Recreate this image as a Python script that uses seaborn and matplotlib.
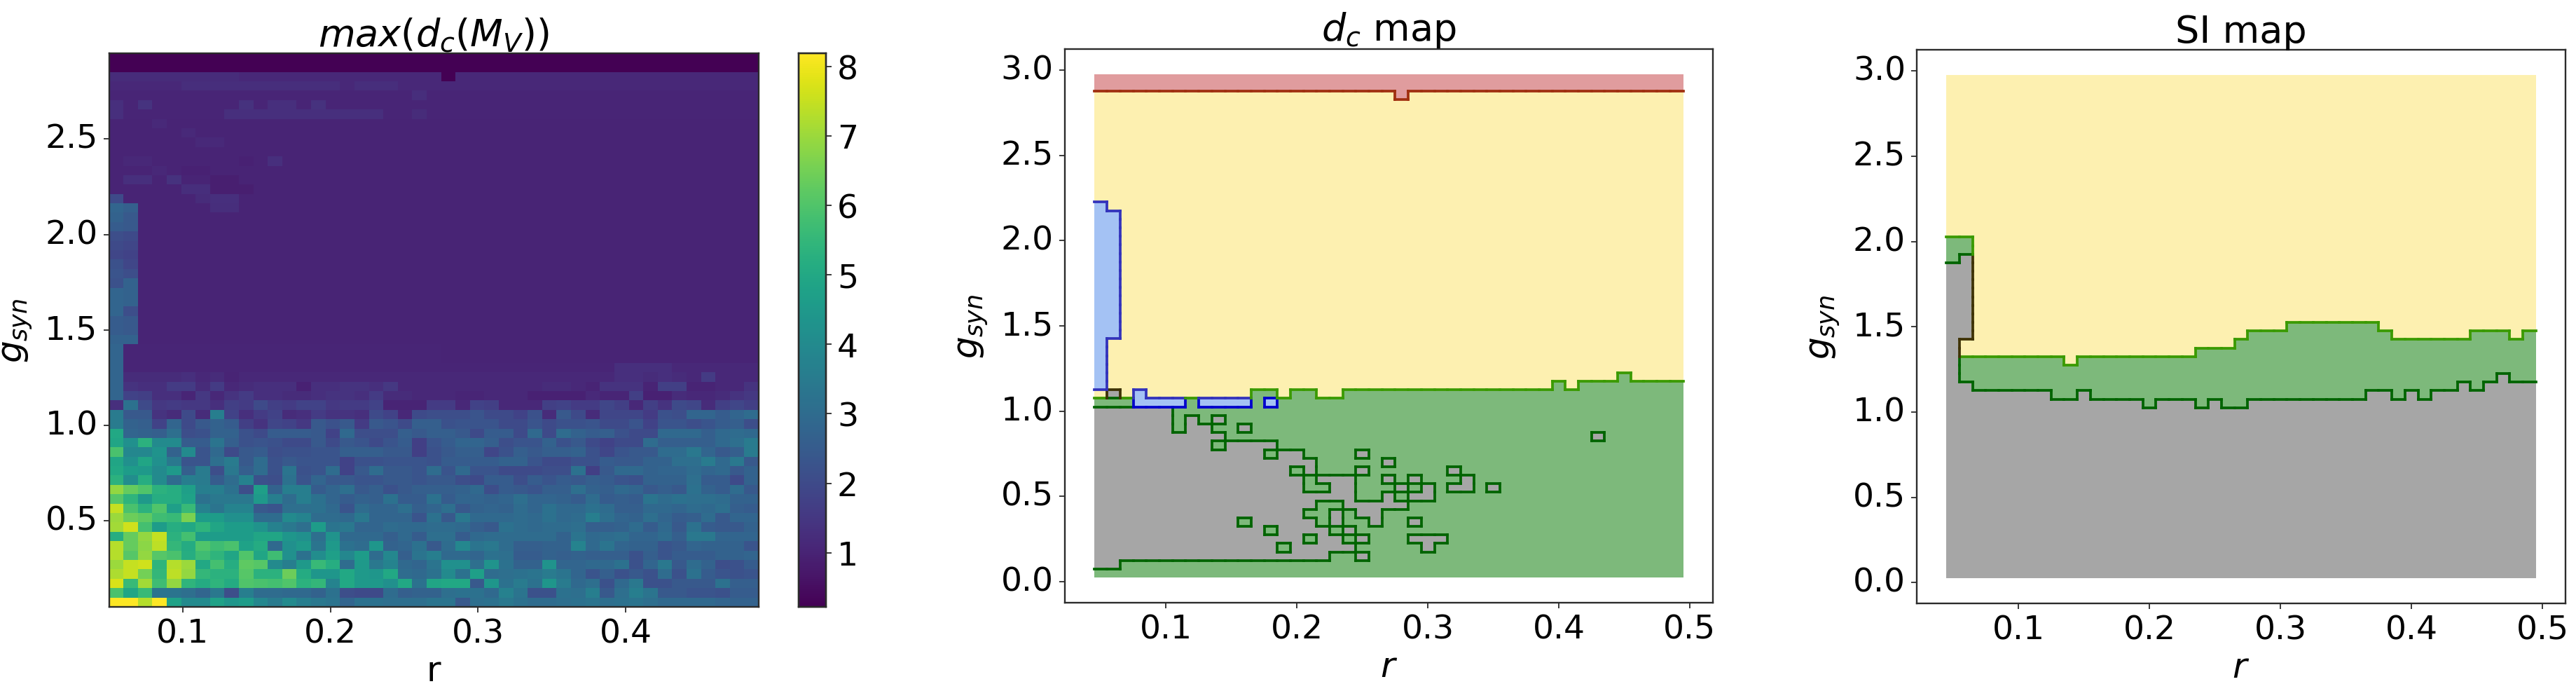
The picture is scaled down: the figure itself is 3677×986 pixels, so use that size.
import numpy as np
import matplotlib
matplotlib.use("Agg")
import matplotlib.pyplot as plt
from matplotlib.colors import ListedColormap
import seaborn as sns

# ==========================================
# Data
# ==========================================

r_ticks = [0.1, 0.2, 0.3, 0.4, 0.5]
g_ticks = [0.0, 0.5, 1.0, 1.5, 2.0, 2.5, 3.0]
cbar_ticks = [1, 2, 3, 4, 5, 6, 7, 8]

# max(d_c(M_V)), bottom rows (g = 0.05 upwards), 45 columns r = 0.05 .. 0.49
max_dc_low = [
    [8.2,8.2,7.3,8.2,4.8,4.0,4.0,4.8,4.4,4.6,3.9,3.5,4.0,3.6,3.4,3.3,2.8,3.2,3.2,3.1,3.1,3.1,3.3,3.3,2.4,3.1,3.2,3.4,3.2,3.0,3.0,3.1,3.2,3.3,3.1,3.2,3.3,3.1,2.9,2.9,2.9,2.9,2.8,2.7,2.7],
    [5.9,4.9,5.6,3.3,3.3,3.1,2.8,3.4,2.1,3.6,3.0,3.0,2.9,2.9,2.7,3.2,2.1,2.0,2.0,3.0,2.6,2.7,2.7,3.1,3.2,3.2,2.9,3.7,3.3,2.2,2.2,3.2,3.1,3.6,2.4,3.1,3.6,3.3,2.4,2.4,2.3,2.3,2.2,2.5,2.5],
    [7.7,5.6,7.1,5.7,6.9,5.4,5.1,5.4,5.1,6.0,5.9,5.8,6.0,5.3,5.5,3.8,5.0,4.5,4.5,4.2,5.0,3.2,4.9,5.0,5.0,2.4,4.4,3.2,3.5,3.2,4.4,3.5,2.9,3.1,2.2,2.9,3.4,2.2,2.2,2.4,2.4,2.4,3.2,2.6,2.6],
    [7.2,7.5,6.5,5.5,7.4,6.9,5.5,5.3,5.3,6.1,5.3,5.3,6.4,5.1,4.4,4.4,5.0,4.5,4.4,5.0,3.0,2.9,3.2,4.0,3.2,4.7,3.0,3.1,3.2,3.3,3.5,3.3,2.8,2.3,2.6,2.2,2.4,2.2,3.0,2.2,3.2,2.5,2.3,2.2,2.3],
    [7.0,7.5,7.6,5.4,7.3,7.0,5.0,5.8,5.2,6.2,6.1,4.0,3.6,4.5,5.6,5.2,3.0,4.5,3.4,3.8,2.9,2.8,3.3,4.2,4.2,3.1,4.3,3.2,2.7,2.7,4.3,2.8,2.8,2.9,2.9,3.2,2.2,2.8,3.4,2.4,3.0,2.7,2.1,2.2,2.5],
    [7.3,6.1,6.9,6.1,5.9,5.2,5.7,5.4,4.9,6.0,4.9,5.7,4.2,3.2,4.1,4.7,3.9,4.6,3.0,3.9,2.6,3.3,3.6,2.9,2.9,2.8,3.2,3.1,2.5,2.5,2.7,2.6,2.7,2.6,2.6,2.6,2.2,2.6,2.3,2.5,2.5,2.5,2.7,2.7,2.8],
    [7.3,6.3,6.8,7.4,5.5,5.1,6.0,5.7,5.9,4.8,5.1,2.9,4.2,4.5,3.3,4.5,3.2,3.0,4.4,2.7,2.8,3.2,2.4,3.0,3.9,3.3,3.4,3.0,2.6,2.6,2.7,2.7,3.8,2.9,3.3,2.8,2.7,2.7,2.3,2.4,2.8,2.7,2.7,2.7,2.3],
    [5.2,6.3,6.9,7.5,5.3,5.8,4.6,4.6,4.6,4.6,4.9,4.9,4.4,4.2,3.1,4.3,2.9,2.9,2.9,2.6,2.9,2.5,3.1,3.1,2.5,2.9,3.0,3.0,3.0,3.0,3.0,2.7,3.3,2.9,3.0,3.1,2.8,2.8,3.0,2.6,3.4,3.4,2.8,2.8,2.8],
    [7.1,7.6,5.8,4.6,5.2,5.0,5.4,4.9,4.6,4.6,4.3,3.7,3.4,3.1,4.6,3.3,3.4,2.8,2.8,3.0,2.9,2.9,3.0,3.0,2.9,2.6,2.4,3.2,3.0,2.9,3.0,3.0,3.1,2.6,2.6,2.7,3.0,2.5,2.9,2.4,3.2,2.5,2.4,2.4,2.7],
    [7.0,6.4,6.2,5.7,5.6,6.6,4.6,4.6,4.2,4.2,3.0,3.0,4.0,3.8,3.0,3.0,2.9,3.4,2.8,2.8,2.8,2.3,3.2,2.4,3.4,2.9,2.9,2.9,3.0,2.9,3.2,2.9,3.0,3.6,3.1,2.8,2.7,3.1,2.8,2.5,2.6,3.0,2.4,2.8,2.8],
    [7.5,5.9,5.3,6.0,4.7,5.6,3.7,3.3,3.8,3.8,2.4,2.3,3.1,3.1,3.2,2.9,2.3,3.0,2.8,2.8,3.1,2.6,2.8,3.1,2.4,2.7,2.8,2.7,3.0,2.8,3.2,2.9,2.9,3.2,3.0,2.6,2.6,2.9,2.9,2.8,3.0,2.9,3.1,2.6,2.5],
    [6.1,5.4,4.5,5.2,5.2,4.8,3.2,3.4,3.4,3.4,4.5,3.6,3.0,3.6,3.2,2.8,2.5,2.7,2.6,3.2,2.5,2.5,3.2,2.5,2.8,2.8,2.7,2.8,3.1,2.8,2.8,2.7,2.5,3.0,2.5,2.6,2.5,3.3,3.0,3.2,3.1,3.1,3.0,2.7,2.7],
    [6.9,6.3,6.0,5.3,5.2,4.7,3.6,3.6,3.2,2.1,4.7,2.7,3.6,3.6,2.5,2.8,3.1,2.4,2.6,2.2,2.4,2.6,2.6,2.6,2.7,2.9,2.1,2.5,2.4,2.3,2.6,2.6,3.1,2.7,2.6,2.9,2.8,2.4,2.6,2.4,3.2,2.7,2.5,3.0,2.4],
    [5.3,4.1,5.2,4.0,3.0,3.6,3.5,2.5,3.0,3.7,2.2,2.1,3.2,2.3,2.8,2.4,2.4,2.3,2.3,2.4,2.4,2.3,2.4,2.4,2.1,2.0,2.5,2.5,2.1,2.5,2.3,2.5,2.4,2.6,2.5,2.3,2.2,2.7,2.7,2.7,3.1,2.5,2.5,2.0,2.7],
    [5.0,4.6,4.5,4.0,4.5,2.6,3.5,2.1,3.4,2.6,3.0,2.2,3.3,2.2,2.3,3.0,1.8,2.4,3.0,2.4,2.4,2.3,3.0,2.3,2.9,2.3,2.3,2.0,2.0,2.0,2.1,2.1,3.2,1.7,2.4,2.9,2.9,2.7,2.8,2.8,3.0,2.8,2.9,2.4,2.7],
    [4.9,4.2,4.9,4.2,3.4,2.3,2.3,3.1,3.5,2.4,3.0,2.2,2.4,2.3,2.3,2.3,1.8,2.2,2.2,2.3,2.3,2.3,2.2,2.5,2.5,2.5,2.5,2.7,2.7,2.3,2.0,2.0,2.2,2.2,2.5,2.4,2.4,2.7,2.7,3.1,3.1,3.5,2.9,3.4,2.4],
    [5.9,3.9,3.9,4.3,2.7,4.0,2.3,2.9,2.0,2.4,2.5,2.1,2.2,2.2,2.3,2.3,2.6,2.6,2.6,2.4,2.4,1.7,2.2,2.4,2.6,2.6,1.9,2.2,2.6,2.4,2.6,2.6,2.7,2.2,1.9,2.3,2.4,2.4,3.0,3.0,3.4,2.8,2.4,2.6,3.5],
    [4.9,4.2,5.3,4.0,4.0,2.5,2.5,3.3,2.6,2.2,2.3,2.2,2.0,2.0,2.4,2.0,2.4,2.3,2.0,2.3,2.5,1.7,2.3,2.5,2.8,2.8,2.6,2.1,2.3,2.3,2.7,2.2,2.4,2.0,1.8,2.0,2.0,3.0,2.6,2.6,2.6,2.6,2.9,3.1,3.5],
    [5.0,2.8,2.7,2.6,3.1,2.1,2.2,2.7,2.7,2.2,2.0,2.5,2.5,2.5,2.4,1.8,2.9,2.1,2.1,2.1,2.6,2.4,2.6,2.6,2.4,2.0,2.5,2.5,2.0,2.9,2.0,3.0,2.7,2.5,2.6,2.2,2.0,2.0,2.9,2.9,2.9,2.6,2.9,3.0,2.9],
    [3.5,2.7,2.6,1.8,2.8,2.0,2.4,2.7,2.5,1.7,1.4,1.9,1.8,1.5,2.4,2.2,2.4,1.6,2.4,2.3,2.0,2.6,2.6,2.2,2.3,2.3,2.3,2.0,2.0,2.3,2.0,2.2,2.2,2.3,2.0,2.0,2.3,1.8,2.3,2.3,2.1,2.3,2.5,2.6,2.1],
    [3.5,2.4,2.4,1.4,1.2,2.0,1.2,3.6,1.8,1.3,1.6,1.8,1.2,1.3,1.6,1.4,1.4,1.3,2.0,1.8,1.1,2.0,2.1,2.1,2.1,2.3,2.0,2.0,1.8,2.2,1.2,2.4,2.0,1.2,1.9,1.9,1.9,1.6,2.2,2.1,2.8,2.8,2.5,2.8,3.0],
    [1.3,3.2,2.0,1.5,1.6,1.5,1.5,1.3,1.7,1.6,2.0,1.7,1.6,1.8,1.8,1.5,1.6,1.6,1.8,1.0,1.0,1.0,1.6,1.6,1.1,1.8,1.7,1.1,1.1,1.1,1.7,1.8,1.6,1.6,1.9,1.7,1.1,1.7,1.4,2.0,1.9,1.2,1.7,1.9,1.7],
    [2.8,1.8,1.7,1.3,1.3,1.05,1.5,1.1,1.4,1.6,1.3,1.3,1.2,1.2,1.3,1.4,1.4,1.3,1.6,1.2,1.2,1.1,1.1,1.1,1.05,1.05,1.1,1.1,1.1,.95,.95,.95,.95,1.15,1.05,1.05,1.7,.95,.95,1.2,1.1,1.1,1.2,1.4,1.5],
    [2.8,1.4,1.3,1.3,1.6,1.6,1.2,1.6,1.1,1.2,1.3,1.3,1.3,.95,1.3,1.3,1.4,1.4,1.3,1.5,1.1,1.1,1.1,1.1,1.1,1.1,1.1,1.1,1.1,1.1,1.2,1.2,1.1,1.0,1.4,1.4,1.4,1.0,1.7,1.7,1.0,1.0,1.1,1.1,1.4],
    [2.8,1.2,1.2,1.2,1.2,1.3,1.1,1.2,1.0,1.1] + [1.1]*25 + [1.3,1.3,1.2,1.3,1.2,1.1,1.6,1.1,1.1,1.1],
    [2.8] + [1.05]*34 + [1.3,1.3,1.3,1.3] + [1.1]*6,
]

# the first two columns carry the bright strip up to g = 2.2
max_dc_mid = [
    [2.8] + [1.05]*22 + [1.0]*22,
    [2.8] + [1.05]*22 + [1.0]*22,
    [2.7,2.7] + [1.0]*43,
    [2.5,2.4] + [1.0]*43,
    [2.5,2.4] + [1.0]*43,
    [2.8,2.1] + [1.0]*43,
    [2.8,2.7] + [1.0]*43,
    [2.8,2.7] + [1.0]*43,
    [2.2,2.7] + [1.0]*43,
    [2.3,2.1] + [1.0]*43,
    [2.2,1.9] + [1.0]*43,
    [1.9,1.8] + [1.0]*43,
    [2.0,1.9] + [1.0]*43,
    [2.1,2.0] + [1.0]*43,
    [2.5,2.4] + [1.0]*43,
    [2.7,2.4] + [1.0]*43,
    [2.8,2.6] + [1.0]*5 + [1.25,1.25] + [1.0]*36,
    [2.0,1.0] + [1.0]*4 + [1.2,1.3,1.3] + [1.0]*36,
]

max_dc_high = [
    [1.0]*5 + [1.25,1.25,.9,.9,.9] + [1.0]*35,
    [1.0,1.3,1.3,1.0,1.35,1.0,1.0,.9,.9] + [1.0]*36,
    [1.0,1.0,1.0,1.1,1.0,.95,.95] + [1.0]*38,
    [1.0,1.1,1.1,1.0,1.0,1.0,1.0,1.0,1.0,.95,1.0,1.3] + [1.0]*33,
    [1.0]*45,
    [1.0]*6 + [1.15,1.15] + [1.0]*37,
    [1.0]*5 + [1.15] + [1.0]*39,
    [1.0]*3 + [1.15] + [1.0]*41,
    [1.3] + [1.05]*7 + [1.3]*11 + [1.05]*2 + [1.2] + [1.05]*23,
    [1.3,1.05,1.4] + [1.05]*6 + [1.35,1.05,1.3,1.3,1.05,1.35] + [1.05]*30,
    [1.05]*21 + [1.25] + [1.05]*23,
    [1.1]*5 + [1.25]*11 + [1.1] + [1.25]*3 + [1.1]*25,
    [1.2]*9 + [1.1]*14 + [.22] + [1.1]*21,
    [.22]*45,
    [.22]*45,
]

# d_c map classes, bottom row first: K gray, G green, Y yellow, B blue, R red
dc_low = [
    "G"*45,
    "KK" + "G"*43,
    "K"*18 + "GG" + "K" + "G"*24,
    "K"*14 + "G" + "K"*5 + "G"*5 + "K" + "G"*19,
    "K"*16 + "G" + "KK" + "G" + "K" + "GGG" + "KKK" + "G"*18,
    "K"*13 + "G" + "K"*4 + "G" + "K" + "G"*25,
    "K"*11 + "G" + "K"*5 + "G" + "K" + "GG" + "K" + "GG" + "K" + "G"*20,
    "K"*16 + "GG" + "K" + "G" + "KK" + "G"*23,
    "K"*17 + "GG" + "K"*5 + "G"*21,
    "K"*20 + "GG" + "K" + "G" + "KK" + "G"*19,
    "K"*16 + "GG" + "KK" + "GGG" + "K" + "G" + "K" + "G" + "KK" + "G" + "K" + "G"*14,
    "K"*16 + "G" + "KKK" + "GG" + "K" + "G" + "K" + "GGG" + "K" + "G"*16,
    "K"*15 + "G" + "K" + "GGG" + "K" + "G"*6 + "K" + "G"*17,
    "K"*17 + "G"*5 + "K" + "G"*22,
    "K"*13 + "G" + "KK" + "G"*4 + "K" + "G"*24,
    "K"*9 + "G" + "K"*4 + "G"*31,
    "K"*10 + "G"*28 + "K" + "G"*6,
    "K"*6 + "G" + "KK" + "GG" + "K" + "G"*33,
    "K"*6 + "G" + "K" + "G" + "K" + "G"*35,
    "K"*6 + "G"*39,
    "G"*3 + "B"*4 + "G" + "B"*4 + "G" + "B" + "G"*31,
    "Y" + "K" + "Y" + "B" + "Y"*8 + "GG" + "Y" + "GG" + "YY" + "G"*26,
    "B" + "Y"*34 + "G" + "Y" + "G"*8,
    "B" + "Y"*39 + "G" + "Y"*4,
]
one_blue = "B" + "Y"*44
two_blue = "BB" + "Y"*43
all_yellow = "Y"*45
red_dip = "Y"*23 + "R" + "Y"*21
all_red = "R"*45

# SI map: class edges per column, in grid rows (row n starts at g = 0.025 + 0.05 n)
si_gray_top = [37, 23, 22, 22, 22, 22, 22, 22, 21, 21, 22, 21, 21, 21, 21, 20, 21, 21, 21, 20, 21, 20, 20,
               21, 21, 21, 21, 21, 21, 21, 21, 21, 22, 22, 21, 22, 21, 22, 22, 23, 22, 23, 24, 23, 23]
si_green_top = [40, 26, 26, 26, 26, 26, 26, 26, 26, 25, 26, 26, 26, 26, 26, 26, 26, 26, 26, 27, 27, 27, 28,
                29, 29, 29, 30, 30, 30, 30, 30, 30, 30, 29, 28, 28, 28, 28, 28, 28, 29, 29, 29, 28, 29]
# the second column also holds gray rows 28-37 and green rows 38-39
si_col1_gray = [28, 38]
si_col1_green_top = 40

# ==========================================
# Colours
# ==========================================

class_order = "KGYBR"
class_colors = ["#a6a6a6", "#7db97b", "#fdf0b0", "#a4c2f4", "#e09c9e"]
edge_colors = {
    "GK": "#006400", "GY": "#3a9a00", "KY": "#3f3306", "BY": "#3333bb",
    "BG": "#0000cc", "BK": "#0000cc", "RY": "#a03010",
}

# ==========================================
# Build the grids
# ==========================================

max_dc = np.array(max_dc_low + max_dc_mid + max_dc_high)

dc_rows = dc_low + [one_blue]*4 + [two_blue]*15 + [one_blue] + [all_yellow]*12 + [red_dip] + [all_red]*2
dc_grid = np.array([[class_order.index(c) for c in row] for row in dc_rows])

si_grid = np.full((59, 45), class_order.index("Y"))
for c in range(45):
    si_grid[:si_green_top[c], c] = class_order.index("G")
    si_grid[:si_gray_top[c], c] = class_order.index("K")
si_grid[26:28, 1] = class_order.index("Y")
si_grid[si_col1_gray[0]:si_col1_gray[1], 1] = class_order.index("K")
si_grid[si_col1_gray[1]:si_col1_green_top, 1] = class_order.index("G")

# ==========================================
# Figure
# ==========================================

W, H = 3677, 987
plt.rcParams['font.family'] = ['DejaVu Sans']
plt.rcParams['mathtext.fontset'] = 'dejavusans'
TICK_FS = 34
LABEL_FS = 36
TITLE_FS = 39
LINE = "#2b2b2b"

fig = plt.figure(figsize=(W / 100, H / 100), dpi=100, facecolor="white")


def px_axes(left, top, right, bottom):
    return fig.add_axes([left / W, 1 - bottom / H, (right - left) / W, (bottom - top) / H])


def style_axes(ax):
    for s in ax.spines.values():
        s.set_visible(True)
        s.set_linewidth(1.7)
        s.set_color(LINE)
    ax.tick_params(labelsize=TICK_FS, length=5.5, width=1.3, color=LINE, pad=6)


def place_ylabel(ax, right_px):
    # the label's right edge sits at a fixed pixel column
    box = ax.get_position()
    ax.yaxis.set_label_coords((right_px / W - box.x0) / box.width, 0.5)


def class_panel(ax, grid, title):
    sns.heatmap(grid, ax=ax, cmap=ListedColormap(class_colors), vmin=-0.5, vmax=4.5,
                cbar=False, square=False)
    # outline every border between two classes
    rows, cols = grid.shape
    for j in range(rows):
        for c in range(cols):
            if c + 1 < cols and grid[j, c] != grid[j, c + 1]:
                key = "".join(sorted(class_order[grid[j, c]] + class_order[grid[j, c + 1]]))
                ax.plot([c + 1, c + 1], [j, j + 1], color=edge_colors[key], lw=2.7,
                        solid_capstyle="projecting")
            if j + 1 < rows and grid[j, c] != grid[j + 1, c]:
                key = "".join(sorted(class_order[grid[j, c]] + class_order[grid[j + 1, c]]))
                ax.plot([c, c + 1], [j + 1, j + 1], color=edge_colors[key], lw=2.7,
                        solid_capstyle="projecting")
    ax.set_xlim(-2.25, 47.25)
    ax.set_ylim(-2.95, 61.95)
    ax.set_xticks([(v - 0.045) / 0.01 for v in r_ticks], [f"{v:.1f}" for v in r_ticks], rotation=0)
    ax.set_yticks([(v - 0.025) / 0.05 for v in g_ticks], [f"{v:.1f}" for v in g_ticks], rotation=0)
    style_axes(ax)
    ax.set_xlabel("$r$", fontsize=LABEL_FS, labelpad=4)
    ax.set_ylabel("$g_{syn}$", fontsize=LABEL_FS)
    ax.set_title(title, fontsize=TITLE_FS, pad=8)


# Left panel
ax1 = px_axes(155.5, 76.8, 1083, 867)
cax = px_axes(1140, 76.8, 1179, 867)
sns.heatmap(max_dc, ax=ax1, cmap="viridis", vmin=0.22, vmax=8.19, cbar_ax=cax)
ax1.set_ylim(0, 59)
ax1.set_xticks([(v - 0.05) / 0.44 * 45 for v in r_ticks[:-1]], [f"{v:.1f}" for v in r_ticks[:-1]], rotation=0)
ax1.set_yticks([(v - 0.05) / 2.9 * 59 for v in g_ticks[1:-1]], [f"{v:.1f}" for v in g_ticks[1:-1]], rotation=0)
style_axes(ax1)
ax1.set_xlabel("r", fontsize=LABEL_FS, labelpad=4)
ax1.set_ylabel("$g_{syn}$", fontsize=LABEL_FS)
place_ylabel(ax1, 49)
ax1.set_title("$max(d_c(M_V))$", fontsize=TITLE_FS, pad=8)
cax.set_yticks(cbar_ticks)
cax.tick_params(labelsize=TICK_FS, length=5.5, width=1.3, color=LINE, pad=6)
for s in cax.spines.values():
    s.set_visible(True)
    s.set_linewidth(1.7)
    s.set_color(LINE)

# Middle panel
ax2 = px_axes(1519.6, 71, 2444.6, 861)
class_panel(ax2, dc_grid, "$d_c$ map")
place_ylabel(ax2, 1413)

# Right panel
ax3 = px_axes(2736, 72.4, 3662, 862)
class_panel(ax3, si_grid, "SI map")
place_ylabel(ax3, 2629)

fig.savefig("out.png", dpi=100)
